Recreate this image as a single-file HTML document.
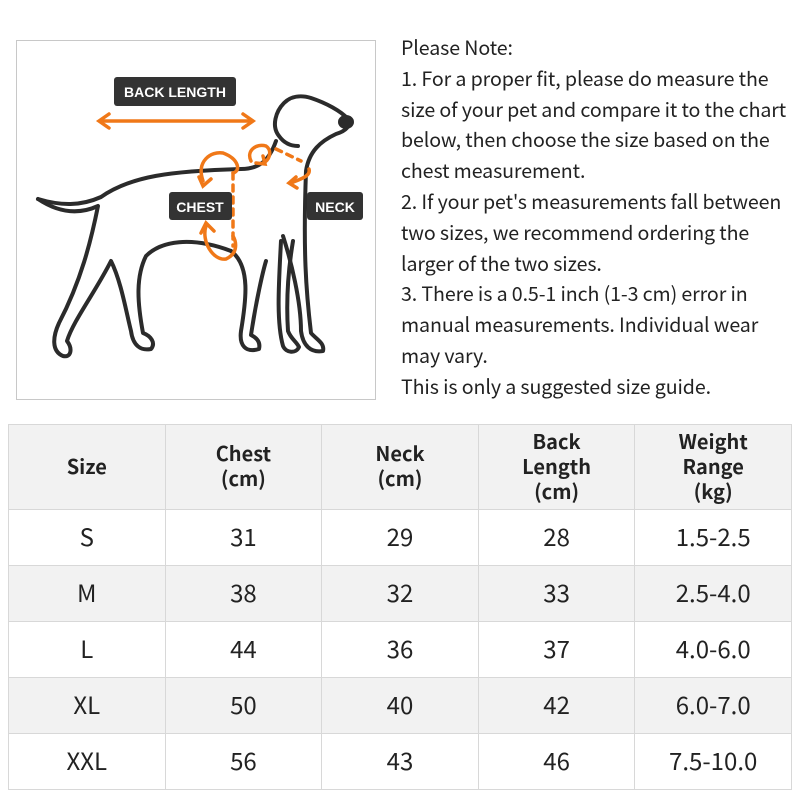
<!DOCTYPE html>
<html><head><meta charset="utf-8"><style>
body{margin:0;width:800px;height:800px;background:#fff;font-family:"Noto Sans CJK SC","Liberation Sans",sans-serif;color:#222;position:relative;overflow:hidden}
.box{position:absolute;left:16px;top:40px;width:360px;height:360px;border:1.5px solid #c8c8c8;box-sizing:border-box}
.note{position:absolute;left:401px;top:32px;font-size:19.6px;line-height:30.8px;white-space:nowrap;letter-spacing:-0.1px}
table{position:absolute;left:8px;top:424px;border-collapse:collapse;width:784px}
td{border:1.5px solid #d8d8d8;text-align:center;width:20%;font-size:24px;height:51px;padding:0 0 4px 0}
tr.h td{font-weight:bold;font-size:20px;line-height:25px;height:80px;padding:0 0 4px 0;background:#f2f2f2}
tr.g td{background:#f2f2f2}
</style></head><body>
<div class="box">
<svg width="360" height="360" viewBox="16 40 360 360" style="position:absolute;left:0;top:0">
<g fill="none" stroke="#2b2b2b" stroke-width="4" stroke-linecap="round" stroke-linejoin="round">
<path d="M37,198 C60,205 80,205 100,196 C130,175 170,170 240,168 C258,168 268,160 275,140"/>
<path d="M37,198 C55,210 75,215 97,205 C90,240 80,280 58,322 C52,335 50,350 62,355 C70,357 72,348 66,340 C72,320 95,290 110,260 C120,280 125,310 130,330 C132,345 140,350 150,348 C155,342 150,335 142,332 C136,300 135,275 145,255 C160,240 190,235 230,250"/>
<path d="M230,250 C250,265 245,300 240,330 C238,345 245,352 258,348 C260,340 254,336 250,334 C255,300 262,270 265,260"/>
<path d="M280,240 C278,280 275,320 282,345 C285,352 295,353 298,346 C295,340 290,338 287,330 C285,300 287,270 292,240"/>
<path d="M282,235 C290,260 300,300 300,330 C302,345 310,352 322,350 C324,342 315,338 310,332 C305,290 302,250 305,170 C308,150 320,140 335,133 C345,130 350,125 347,118 C340,110 325,102 310,97 C300,94 290,95 283,102 C275,110 270,125 278,135 C283,142 290,145 297,145"/>
</g>
<ellipse cx="345" cy="121" rx="8" ry="7" fill="#2b2b2b"/>
<g fill="none" stroke="#f07818" stroke-width="3.5" stroke-linecap="round">
<path d="M100,120 L250,120"/><path d="M108,113 L98,120 L108,127"/><path d="M242,113 L252,120 L242,127"/>
<path d="M202,180 C195,160 210,150 222,152 C238,158 240,170 232,172"/><path d="M198,176 L202,185 L210,178"/>
<path d="M205,225 C200,240 212,260 225,258 C238,252 235,240 232,235"/><path d="M200,232 L205,222 L213,230"/>
<path d="M250,160 C245,150 255,142 265,145 C272,150 268,160 262,162"/><path d="M255,162 L264,163 L262,155"/>
<path d="M290,182 C300,178 310,175 308,168"/><path d="M295,176 L288,182 L296,187"/>
<path d="M232,172 L232,245" stroke-dasharray="6,6"/>
<path d="M275,148 L300,160" stroke-dasharray="6,6"/>
</g>
<rect x="113" y="76" width="122" height="29" rx="3" fill="#333"/>
<text x="174" y="96" fill="#fff" font-size="14" font-weight="bold" text-anchor="middle" font-family="Liberation Sans,sans-serif">BACK LENGTH</text>
<rect x="168" y="191" width="63" height="28" rx="3" fill="#333"/>
<text x="199" y="211" fill="#fff" font-size="14" font-weight="bold" text-anchor="middle" font-family="Liberation Sans,sans-serif">CHEST</text>
<rect x="306" y="191" width="56" height="28" rx="3" fill="#333"/>
<text x="334" y="211" fill="#fff" font-size="14" font-weight="bold" text-anchor="middle" font-family="Liberation Sans,sans-serif">NECK</text>
</svg>
</div>
<div class="note">Please Note:<br>1. For a proper fit, please do measure the<br>size of your pet and compare it to the chart<br>below, then choose the size based on the<br>chest measurement.<br>2. If your pet's measurements fall between<br>two sizes, we recommend ordering the<br>larger of the two sizes.<br>3. There is a 0.5-1 inch (1-3 cm) error in<br>manual measurements. Individual wear<br>may vary.<br>This is only a suggested size guide.</div>
<table>
<tr class="h"><td>Size</td><td>Chest<br>(cm)</td><td>Neck<br>(cm)</td><td>Back<br>Length<br>(cm)</td><td>Weight<br>Range<br>(kg)</td></tr>
<tr><td>S</td><td>31</td><td>29</td><td>28</td><td>1.5-2.5</td></tr>
<tr class="g"><td>M</td><td>38</td><td>32</td><td>33</td><td>2.5-4.0</td></tr>
<tr><td>L</td><td>44</td><td>36</td><td>37</td><td>4.0-6.0</td></tr>
<tr class="g"><td>XL</td><td>50</td><td>40</td><td>42</td><td>6.0-7.0</td></tr>
<tr><td>XXL</td><td>56</td><td>43</td><td>46</td><td>7.5-10.0</td></tr>
</table>
</body></html>
